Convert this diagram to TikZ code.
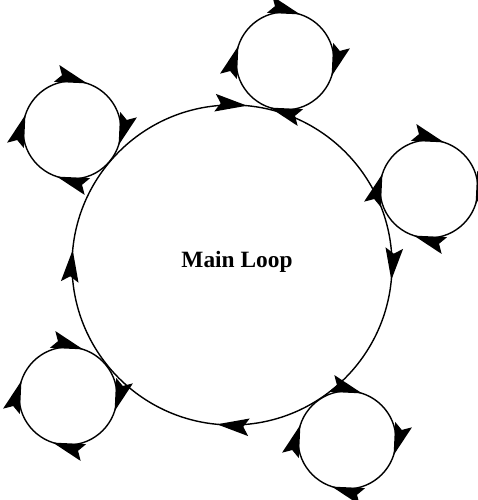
\documentclass[tikz,border=0pt]{standalone}
\usepackage{fontspec}
\setmainfont{Liberation Serif}
\usetikzlibrary{decorations.markings,arrows.meta}

\tikzset{
  headtip/.tip={Stealth[length=0.64cm, width=0.35cm, inset=0.11cm]}
}

\begin{document}
\begin{tikzpicture}[
        x=0.02cm, y=0.02cm, line width=0.8pt,
        minor/.style={postaction={decorate}, decoration={markings,
          mark=between positions 0.05 and 0.99 step 0.25 with {\arrow{headtip}}}},
        major/.style={postaction={decorate}, decoration={markings,
          mark=between positions 0.015 and 0.99 step 0.25 with {\arrow{headtip}}}},
        lbl/.style={font=\bfseries\fontsize{13.3}{16}\selectfont}]

      \useasboundingbox (0,0) rectangle (477,500);

      % main loop, clockwise
      \coordinate (main) at (232,235);
      \draw[major] (main) ++(160,0) arc[start angle=0, end angle=-360, radius=160];
      \node[lbl] (title) at (237,238) {Main Loop};

      % small loops round it, clockwise too
      \foreach \c/\x/\y in {top/285/439, ul/72/370, rt/429/311, ll/68/104, lr/347/60} {
        \coordinate (\c) at (\x,\y);
        \draw[minor] (\c) ++(49,0) arc[start angle=0, end angle=-360, radius=49];
      }
    \end{tikzpicture}
\end{document}
